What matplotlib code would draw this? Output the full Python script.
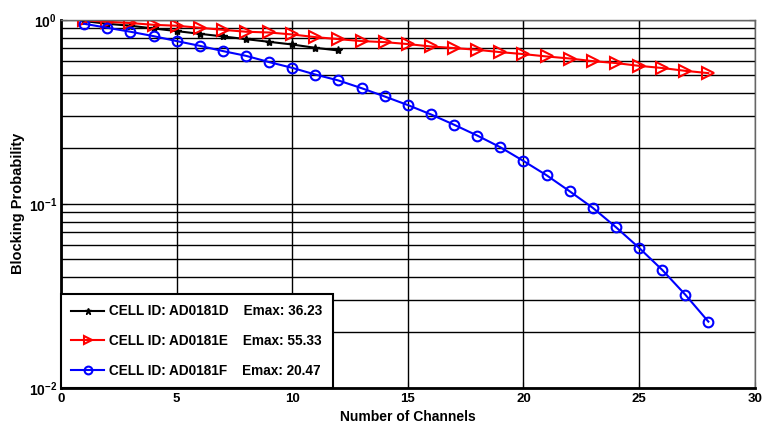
import numpy as np
import matplotlib
matplotlib.use("Agg")
import matplotlib.pyplot as plt
from matplotlib.ticker import LogLocator, NullFormatter

plt.rcParams['font.family'] = ['Liberation Sans', 'DejaVu Sans']
plt.rcParams['font.weight'] = 'bold'
plt.rcParams['mathtext.fontset'] = 'custom'
plt.rcParams['mathtext.rm'] = 'Liberation Sans:bold'
plt.rcParams['mathtext.bf'] = 'Liberation Sans:bold'

"""data"""

ch_d = np.arange(1, 13)
pb_d = [0.984, 0.951, 0.928, 0.897, 0.868, 0.839, 0.812, 0.785, 0.759, 0.734, 0.704, 0.681]

ch_e = np.arange(1, 29)
pb_e = [0.995, 0.975, 0.960, 0.939, 0.928, 0.905, 0.882, 0.861, 0.853, 0.832,
        0.805, 0.785, 0.766, 0.756, 0.738, 0.716, 0.702, 0.687, 0.667, 0.651,
        0.632, 0.616, 0.596, 0.582, 0.562, 0.547, 0.528, 0.513]

ch_f = np.arange(1, 29)
pb_f = [0.951, 0.905, 0.861, 0.815, 0.766, 0.722, 0.676, 0.637, 0.589, 0.548,
        0.504, 0.468, 0.425, 0.383, 0.344, 0.306, 0.269, 0.235, 0.203, 0.171,
        0.143, 0.117, 0.0951, 0.0747, 0.0577, 0.0438, 0.0321, 0.0229]

labels = ['CELL ID: AD0181D    Emax: 36.23',
          'CELL ID: AD0181E    Emax: 55.33',
          'CELL ID: AD0181F    Emax: 20.47']

"""plot"""

fig = plt.figure(figsize=(7.63, 4.30), dpi=100)
ax1 = fig.add_axes([0.080, 0.098, 0.909, 0.856])

ax1.plot(ch_d, pb_d, color='k', lw=1.5, marker='*', ms=6, label=labels[0])
ax1.plot(ch_e, pb_e, color='r', lw=1.5, marker='>', ms=8, mfc='none', mew=1.5, label=labels[1])
ax1.plot(ch_f, pb_f, color='b', lw=1.5, marker='o', ms=7, mfc='none', mew=1.5, label=labels[2])

"""detail"""

ax1.set_yscale('log')
ax1.set_xlim(0, 30)
ax1.set_ylim(1e-2, 1e0)
ax1.set_xticks(np.arange(0, 31, 5))
ax1.set_xticklabels([str(x) for x in range(0, 31, 5)], fontsize=9.5, fontweight='bold')
ax1.set_yticks([1e-2, 1e-1, 1e0])
ax1.set_yticklabels([r'$10^{-2}$', r'$10^{-1}$', r'$10^{0}$'], fontsize=10)
ax1.yaxis.set_minor_locator(LogLocator(base=10, subs=np.arange(2, 10)))
ax1.yaxis.set_minor_formatter(NullFormatter())

ax1.tick_params(direction='in', which='both', top=True, right=True, length=4, pad=4)
ax1.tick_params(axis='y', which='major', pad=3)
ax1.tick_params(which='minor', length=2)

ax1.grid(True, axis='x', which='major', color='k', lw=1.0)
ax1.grid(True, axis='y', which='both', color='k', lw=1.0)

for s in ['left', 'bottom']:
    ax1.spines[s].set_linewidth(2.0)
for s in ['top', 'right']:
    ax1.spines[s].set_linewidth(1.0)
    ax1.spines[s].set_color('#666666')

ax1.set_xlabel('Number of Channels', fontsize=10, fontweight='bold', labelpad=3)
ax1.set_ylabel('Blocking Probability', fontsize=10.5, fontweight='bold')
ax1.yaxis.set_label_coords(-0.052, 0.5)

leg = ax1.legend(loc='lower left', fontsize=9.8, frameon=True, fancybox=False,
                 borderaxespad=0, handlelength=2.4, labelspacing=1.15, borderpad=0.75,
                 handletextpad=0.4, framealpha=1, markerscale=0.8)
leg.get_frame().set_edgecolor('k')
leg.get_frame().set_linewidth(1.5)
for t in leg.get_texts():
    t.set_fontweight('bold')

fig.savefig('out.png', dpi=100)
